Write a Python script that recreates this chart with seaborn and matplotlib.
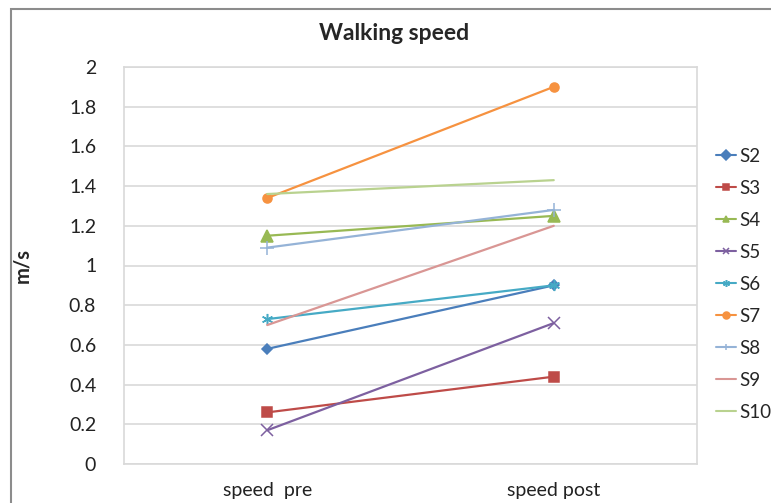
import numpy as np
import pandas as pd
import matplotlib
matplotlib.use("Agg")
import matplotlib.pyplot as plt
import seaborn as sns
from matplotlib.patches import Rectangle

# data
subjects = ["S2", "S3", "S4", "S5", "S6", "S7", "S8", "S9", "S10"]
times = ["speed  pre", "speed post"]
speed_pre = [0.58, 0.26, 1.15, 0.17, 0.73, 1.34, 1.09, 0.70, 1.36]
speed_post = [0.90, 0.44, 1.25, 0.71, 0.90, 1.90, 1.28, 1.20, 1.43]

colors = ["#4A7EBB", "#BE4B48", "#98B954", "#7D60A0", "#46AAC5",
          "#F69240", "#95B3D7", "#D99694", "#B9D28F"]
markers = ["D", "s", "^", "x", (6, 2, 0), "o", "+", None, None]
msizes = [5, 7, 8, 8, 8, 6.5, 10, 0, 0]

rows = []
for i, s in enumerate(subjects):
    rows.append({"subject": s, "time": times[0], "speed": speed_pre[i]})
    rows.append({"subject": s, "time": times[1], "speed": speed_post[i]})
df = pd.DataFrame(rows)

sns.set_theme(style="white")
plt.rcParams["font.family"] = ["Lato", "DejaVu Sans"]

fig = plt.figure(figsize=(7.71, 5.03), dpi=100)
ax = fig.add_axes([124 / 771, 1 - 464 / 503, 573 / 771, 397 / 503])

for i, s in enumerate(subjects):
    kw = {}
    if markers[i] is not None:
        kw = dict(marker=markers[i], markersize=msizes[i],
                  markeredgecolor=colors[i], markerfacecolor=colors[i],
                  markeredgewidth=1.1)
    sns.lineplot(data=df[df.subject == s], x="time", y="speed", color=colors[i],
                 linewidth=1.6, label=s, ax=ax, sort=False, **kw)

ax.set_xlim(-0.5, 1.5)
ax.set_ylim(0, 2)
ax.set_yticks(np.arange(0, 2.01, 0.2))
ax.set_yticklabels(["0", "0.2", "0.4", "0.6", "0.8", "1", "1.2", "1.4", "1.6", "1.8", "2"])
ax.yaxis.grid(True, color="#D9D9D9", linewidth=1.2)
ax.set_axisbelow(True)
for sp in ax.spines.values():
    sp.set_color("#D9D9D9")
    sp.set_linewidth(1.2)
ax.tick_params(axis="y", length=0, pad=20, labelsize=14, colors="#222222")
ax.tick_params(axis="x", length=0, pad=13, labelsize=14, colors="#222222")
ax.set_xlabel("")
ax.set_ylabel("m/s", fontsize=14.5, fontweight="bold", labelpad=26)

fig.text(394 / 771, 1 - 33 / 503, "Walking speed", ha="center", va="center",
         fontsize=16.5, fontweight="bold")

ax.get_legend().remove()
handles, labels = ax.get_legend_handles_labels()
leg = fig.legend(handles, labels, loc="upper left",
                 bbox_to_anchor=(708 / 771, 1 - 140 / 503), frameon=False,
                 fontsize=13.5, handlelength=1.1, handletextpad=0.15,
                 labelspacing=0.8, borderaxespad=0)
for h in leg.legend_handles:
    h.set_linewidth(1.5)
    h.set_markersize(5)

# outer chart frame (cropped at right and bottom)
fig.patches.append(Rectangle((11 / 771, -0.1), 2, 1 - 9 / 503 + 0.1,
                             transform=fig.transFigure, fill=False,
                             edgecolor="#8C8C8C", linewidth=1.5))

fig.savefig("out.png", dpi=100)
